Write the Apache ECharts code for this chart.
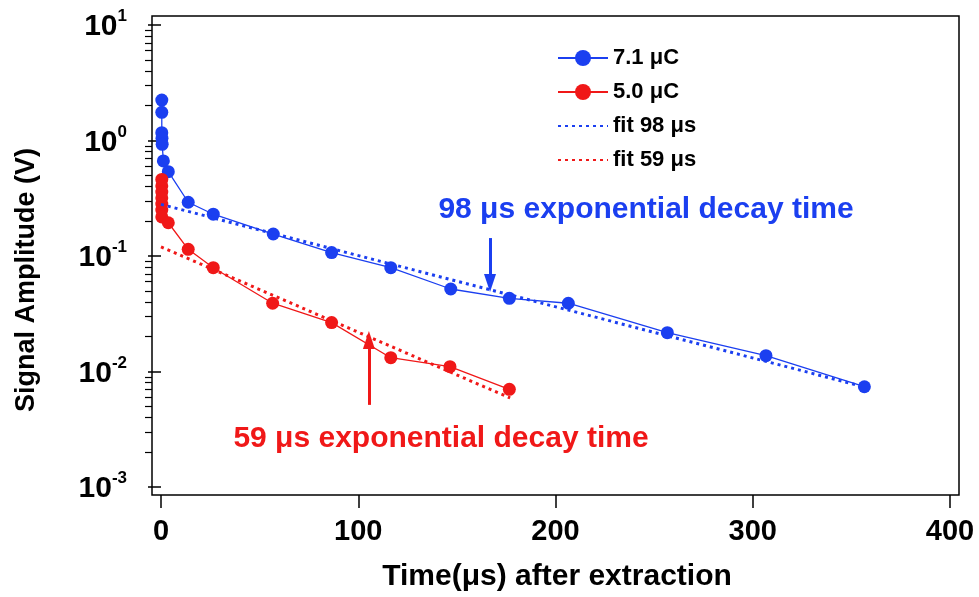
<!DOCTYPE html>
<html><head><meta charset="utf-8">
<script src="https://cdn.jsdelivr.net/npm/echarts@6/dist/echarts.min.js"></script>
<style>html,body{margin:0;padding:0;background:#fff}#c{width:979px;height:597px}</style>
</head><body><div id="c"></div>
<script>
// ---- data ----
const xTickValues = [0, 100, 200, 300, 400];
const yTickValues = [0.001, 0.01, 0.1, 1, 10];
const seriesNames = ['7.1 μC', '5.0 μC', 'fit 98 μs', 'fit 59 μs'];
const blueTime = [0.4, 0.4, 0.4, 0.5, 0.6, 1.2, 3.7, 13.8, 26.5, 56.9, 86.5, 116.5, 146.9, 176.6, 206.5, 256.7, 306.7, 356.6];
const blueAmp  = [2.24, 1.755, 1.168, 1.045, 0.927, 0.665, 0.537, 0.292, 0.230, 0.155, 0.107, 0.0792, 0.0518, 0.0430, 0.0390, 0.0217, 0.0137, 0.00738];
const redTime  = [0.4, 0.4, 0.4, 0.4, 0.4, 0.4, 0.4, 3.7, 13.8, 26.5, 56.6, 86.5, 116.5, 146.5, 176.6];
const redAmp   = [0.46, 0.404, 0.358, 0.318, 0.282, 0.250, 0.218, 0.194, 0.1143, 0.0792, 0.0390, 0.0265, 0.01317, 0.01101, 0.00701];
const blueFitTime = [0, 356];
const blueFitAmp  = [0.28, 0.0074];
const redFitTime  = [0, 177];
const redFitAmp   = [0.12, 0.0059];
const blueArrowTime = 166.8, blueArrowFrom = 0.143, blueArrowTo = 0.0584;
const redArrowTime = 105.4, redArrowFrom = 0.00514, redArrowTo = 0.0187;
const annotationTexts = ['98 μs exponential decay time', '59 μs exponential decay time'];
const xAxisTitle = 'Time(μs) after extraction';
const yAxisTitle = 'Signal Amplitude (V)';

// minor tick positions (2..9 within each decade)
const yMinorTickValues = [];
for (let d = 0; d < yTickValues.length - 1; d++) {
  for (let m = 2; m <= 9; m++) yMinorTickValues.push(+(yTickValues[d] * m).toPrecision(3));
}

// ---- styles ----
const FONT = '"Liberation Sans", Arial, sans-serif';
const BLUE = '#1b3ff0';
const RED = '#f01818';
const pairs = (xs, ys) => xs.map((x, i) => [x, ys[i]]);
const yMin = yTickValues[0], yMax = yTickValues[yTickValues.length - 1];

const chart = echarts.init(document.getElementById('c'), null, {renderer: 'canvas'});
chart.setOption({
  animation: false,
  backgroundColor: '#fff',
  grid: [
    {left: 161, right: 29, top: 25, bottom: 110, show: false},
    {left: 152, right: 20, top: 16, bottom: 102, show: true, borderColor: '#000', borderWidth: 1.5, backgroundColor: 'transparent', z: 0}
  ],
  xAxis: [
    {type: 'value', gridIndex: 0, min: xTickValues[0], max: xTickValues[xTickValues.length - 1], interval: 100, offset: 8,
     axisLine: {show: false}, splitLine: {show: false},
     axisTick: {show: true, inside: false, length: 13, lineStyle: {color: '#000', width: 1.5}},
     axisLabel: {margin: 22, color: '#000', fontFamily: FONT, fontWeight: 'bold', fontSize: 29}},
    {type: 'value', gridIndex: 1, show: false}
  ],
  yAxis: [
    {type: 'log', gridIndex: 0, logBase: 10, min: yMin, max: yMax, offset: 9,
     axisLine: {show: false}, splitLine: {show: false},
     axisTick: {show: true, inside: false, length: 13, lineStyle: {color: '#000', width: 1.5}},
     axisLabel: {margin: 25, formatter: v => '{b|10}{s|' + Math.round(Math.log10(v)) + '}',
       rich: {
         b: {fontFamily: FONT, fontWeight: 'bold', fontSize: 30, color: '#000', lineHeight: 34, padding: [8, 0, 0, 0], verticalAlign: 'bottom'},
         s: {fontFamily: FONT, fontWeight: 'bold', fontSize: 17, color: '#000', lineHeight: 18, verticalAlign: 'top'}
       }}},
    {type: 'value', gridIndex: 1, show: false},
    {type: 'log', gridIndex: 0, logBase: 10, min: yMin, max: yMax, offset: 9, position: 'left',
     axisLine: {show: false}, splitLine: {show: false}, axisLabel: {show: false},
     axisTick: {show: true, inside: false, length: 7, customValues: yMinorTickValues, lineStyle: {color: '#000', width: 1.2}}}
  ],
  legend: {
    orient: 'vertical', left: 557, top: 47, padding: 0, itemWidth: 50, itemHeight: 20, itemGap: 12,
    data: [
      {name: seriesNames[0]},
      {name: seriesNames[1]},
      {name: seriesNames[2], itemStyle: {opacity: 0}},
      {name: seriesNames[3], itemStyle: {opacity: 0}}
    ],
    textStyle: {fontFamily: FONT, fontWeight: 'bold', fontSize: 22, color: '#000', lineHeight: 20}
  },
  series: [
    {name: seriesNames[0], type: 'line', data: pairs(blueTime, blueAmp), symbol: 'circle', symbolSize: 13,
     itemStyle: {color: BLUE}, lineStyle: {color: BLUE, width: 1.3}, z: 3},
    {name: seriesNames[1], type: 'line', data: pairs(redTime, redAmp), symbol: 'circle', symbolSize: 13,
     itemStyle: {color: RED}, lineStyle: {color: RED, width: 1.3}, z: 3},
    {name: seriesNames[2], type: 'line', data: pairs(blueFitTime, blueFitAmp), symbol: 'none', showSymbol: false,
     itemStyle: {color: BLUE}, lineStyle: {color: BLUE, width: 3, type: [3, 4]}, z: 4,
     markLine: {silent: true, symbol: ['none', 'triangle'], symbolSize: [12, 18], label: {show: false},
       lineStyle: {type: 'solid', width: 3, color: BLUE},
       data: [[{coord: [blueArrowTime, blueArrowFrom]}, {coord: [blueArrowTime, blueArrowTo]}]]}},
    {name: seriesNames[3], type: 'line', data: pairs(redFitTime, redFitAmp), symbol: 'none', showSymbol: false,
     itemStyle: {color: RED}, lineStyle: {color: RED, width: 3, type: [3, 4]}, z: 4,
     markLine: {silent: true, symbol: ['none', 'triangle'], symbolSize: [12, 18], label: {show: false},
       lineStyle: {type: 'solid', width: 3, color: RED},
       data: [[{coord: [redArrowTime, redArrowFrom]}, {coord: [redArrowTime, redArrowTo]}]]}}
  ],
  graphic: [
    {type: 'text', x: 646, y: 210, style: {text: annotationTexts[0], fill: BLUE, font: 'bold 30px ' + FONT, textAlign: 'center', textVerticalAlign: 'middle'}},
    {type: 'text', x: 441, y: 439, style: {text: annotationTexts[1], fill: RED, font: 'bold 30px ' + FONT, textAlign: 'center', textVerticalAlign: 'middle'}},
    {type: 'text', x: 557, y: 577, style: {text: xAxisTitle, fill: '#000', font: 'bold 30px ' + FONT, textAlign: 'center', textVerticalAlign: 'middle'}},
    {type: 'text', x: 27, y: 280, rotation: Math.PI / 2, style: {text: yAxisTitle, fill: '#000', font: 'bold 27px ' + FONT, textAlign: 'center', textVerticalAlign: 'middle'}}
  ]
});
</script>
</body></html>
